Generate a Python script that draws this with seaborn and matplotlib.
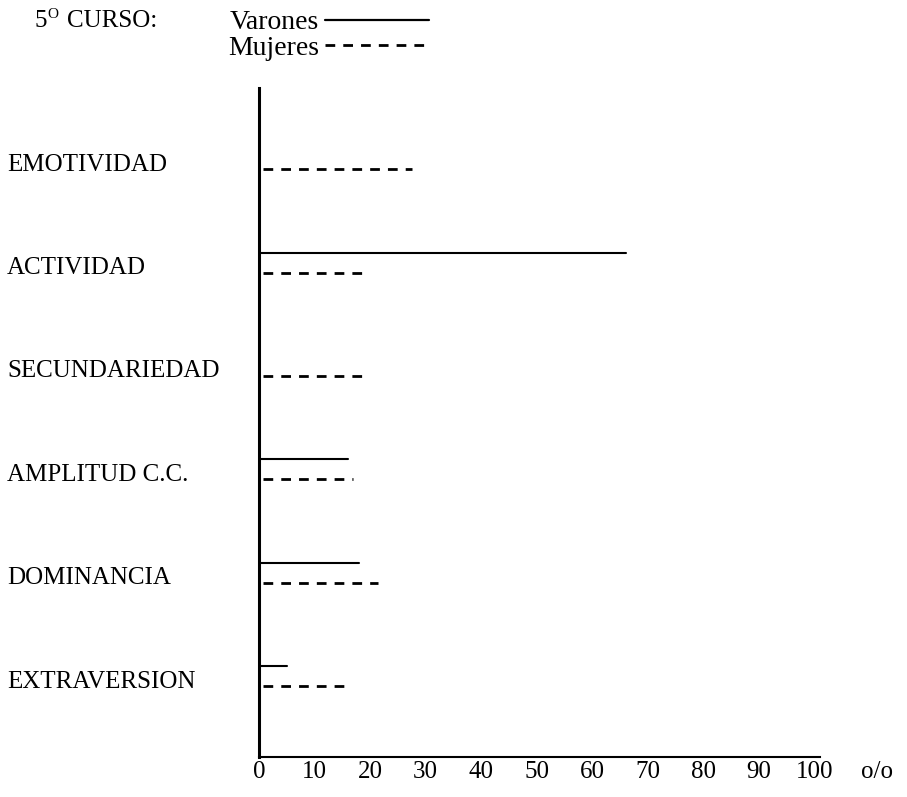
import matplotlib
matplotlib.use("Agg")
import matplotlib.pyplot as plt
import seaborn as sns
import pandas as pd

# ---- data ----
categorias = ["EMOTIVIDAD", "ACTIVIDAD", "SECUNDARIEDAD",
              "AMPLITUD C.C.", "DOMINANCIA", "EXTRAVERSION"]
varones = [0, 66, 0, 16, 18, 5]
mujeres = [27.5, 19.5, 19.5, 17, 21.5, 15.5]
xticks = [0, 10, 20, 30, 40, 50, 60, 70, 80, 90, 100]
series = ["Varones", "Mujeres"]

sns.set_theme(style="white")
plt.rcParams["font.family"] = ["Liberation Serif", "DejaVu Serif"]
plt.rcParams["text.color"] = "black"

W, H = 907, 797
fig = plt.figure(figsize=(W / 100, H / 100), dpi=100)
ax = fig.add_axes([259 / W, (H - 757) / H, (820 - 259) / W, (757 - 88) / H])

offsets = {"Varones": -0.125, "Mujeres": 0.07}
start = {"Varones": 0, "Mujeres": 0.7}
rows = []
for sexo, vals in zip(series, [varones, mujeres]):
    for i, v in enumerate(vals):
        if v <= 0:
            continue
        y = i + offsets[sexo]
        rows.append({"x": start[sexo], "y": y, "sexo": sexo, "unit": f"{sexo}{i}"})
        rows.append({"x": v, "y": y, "sexo": sexo, "unit": f"{sexo}{i}"})
df = pd.DataFrame(rows)

sns.lineplot(data=df, x="x", y="y", hue="sexo", style="sexo",
             hue_order=series, style_order=series,
             units="unit", estimator=None, sort=False,
             palette={"Varones": "black", "Mujeres": "black"},
             dashes={"Varones": "", "Mujeres": (3.5, 2.9)},
             linewidth=1.5, ax=ax)
for line in ax.get_lines():
    if line.get_linestyle() != "-":
        line.set_linewidth(2.0)

handles, labels = ax.get_legend_handles_labels()
ax.get_legend().remove()
leg = fig.legend(handles, labels, loc="upper left",
                 bbox_to_anchor=(228 / W, 1 - 10 / H),
                 frameon=False, markerfirst=False, fontsize=20,
                 handlelength=3.75, handletextpad=0.2, labelspacing=-0.0,
                 borderpad=0, borderaxespad=0)
for h in leg.legend_handles:
    if h.get_linestyle() == "-":
        h.set_linewidth(1.6)
    else:
        h.set_linewidth(2.0)

ax.set_xlim(0, 101)
ax.set_ylim(5.754, -0.716)
ax.set_xticks(xticks)
ax.set_xticklabels([str(t) for t in xticks], fontsize=18)
ax.set_yticks(range(len(categorias)))
ax.set_yticklabels(categorias, fontsize=18)
ax.tick_params(axis="both", length=0, colors="black")
ax.tick_params(axis="x", pad=3)
ax.tick_params(axis="y", pad=(259 - 7) * 0.72)
for lbl in ax.get_yticklabels():
    lbl.set_horizontalalignment("left")
ax.set_xlabel("")
ax.set_ylabel("")

for s in ["top", "right"]:
    ax.spines[s].set_visible(False)
ax.spines["left"].set_linewidth(2.2)
ax.spines["bottom"].set_linewidth(1.5)
ax.spines["left"].set_color("black")
ax.spines["bottom"].set_color("black")

fig.text(34 / W, 1 - 21 / H, "5", fontsize=18, va="center", ha="left")
fig.text(47 / W, 1 - 15 / H, "O", fontsize=11, va="center", ha="left")
fig.text(67 / W, 1 - 21 / H, "CURSO:", fontsize=18, va="center", ha="left")
fig.text(877 / W, 1 - 772 / H, "o/o", fontsize=18, va="center", ha="center")

fig.savefig("out.png", dpi=100, facecolor="white")
